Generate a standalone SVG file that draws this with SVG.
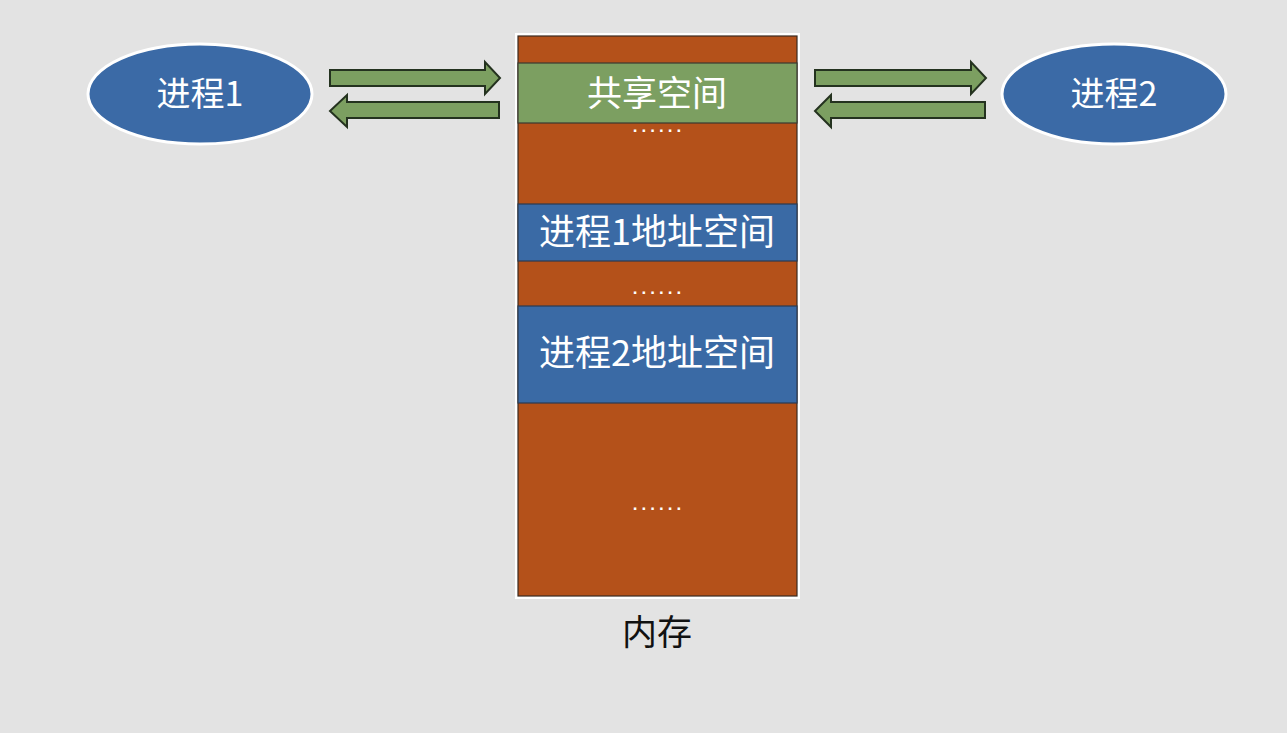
<svg xmlns="http://www.w3.org/2000/svg" width="1287" height="733" viewBox="0 0 1287 733">
<style>
.bg{fill:#e3e3e3}
.proc{fill:#3b6aa6;stroke:#ffffff;stroke-width:3}
.orange{fill:#b4511a;stroke:#3a2a20;stroke-width:1.2}
.green{fill:#7c9f61;stroke:#3a3a30;stroke-width:1.2}
.blue{fill:#3a6aa5;stroke:#2a3a50;stroke-width:1.2}
.arrow{fill:#7c9f61;stroke:#24321f;stroke-width:2;stroke-linejoin:miter}
.t{font-family:"Noto Sans CJK SC","Noto Sans",sans-serif;fill:#ffffff;text-anchor:middle;dominant-baseline:central}
.dots{font-family:"Liberation Sans",sans-serif;fill:#ffffff;font-size:17px;text-anchor:middle;font-weight:bold;letter-spacing:4px}
.label{font-family:"Noto Sans CJK SC","Noto Sans",sans-serif;fill:#111111;text-anchor:middle;dominant-baseline:central;font-size:35px}
</style>
<rect class="bg" x="0" y="0" width="1287" height="733"/>
<g id="memory">
<rect x="515" y="33" width="285" height="566" fill="#ffffff"/>
<rect class="orange" x="518" y="36" width="279" height="560"/>
<rect class="green" x="518" y="63" width="279" height="60"/>
<text class="t" x="657" y="90" font-size="35">共享空间</text>
<text class="dots" x="659" y="132">......</text>
<rect class="blue" x="518" y="204" width="279" height="57"/>
<text class="t" x="657" y="229" font-size="36">进程1地址空间</text>
<text class="dots" x="659" y="294">......</text>
<rect class="blue" x="518" y="306" width="279" height="97"/>
<text class="t" x="657" y="350" font-size="36">进程2地址空间</text>
<text class="dots" x="659" y="510">......</text>
</g>
<g id="memlabel">
<text class="label" x="657" y="629">内存</text>
</g>
<g id="process1">
<ellipse class="proc" cx="200" cy="94" rx="112" ry="50"/>
<text class="t" x="200" y="91" font-size="34">进程1</text>
</g>
<g id="process2">
<ellipse class="proc" cx="1114" cy="94" rx="112" ry="50"/>
<text class="t" x="1114" y="91" font-size="34">进程2</text>
</g>
<g id="connectors">
<polygon class="arrow" points="330,70 485,70 485,62 500,78 485,94 485,86 330,86"/>
<polygon class="arrow" points="499,102 347,102 347,95 330,111 347,127 347,118 499,118"/>
<polygon class="arrow" points="815,70 971,70 971,62 986,78 971,94 971,86 815,86"/>
<polygon class="arrow" points="985,102 831,102 831,95 815,111 831,127 831,118 985,118"/>
</g>
</svg>
